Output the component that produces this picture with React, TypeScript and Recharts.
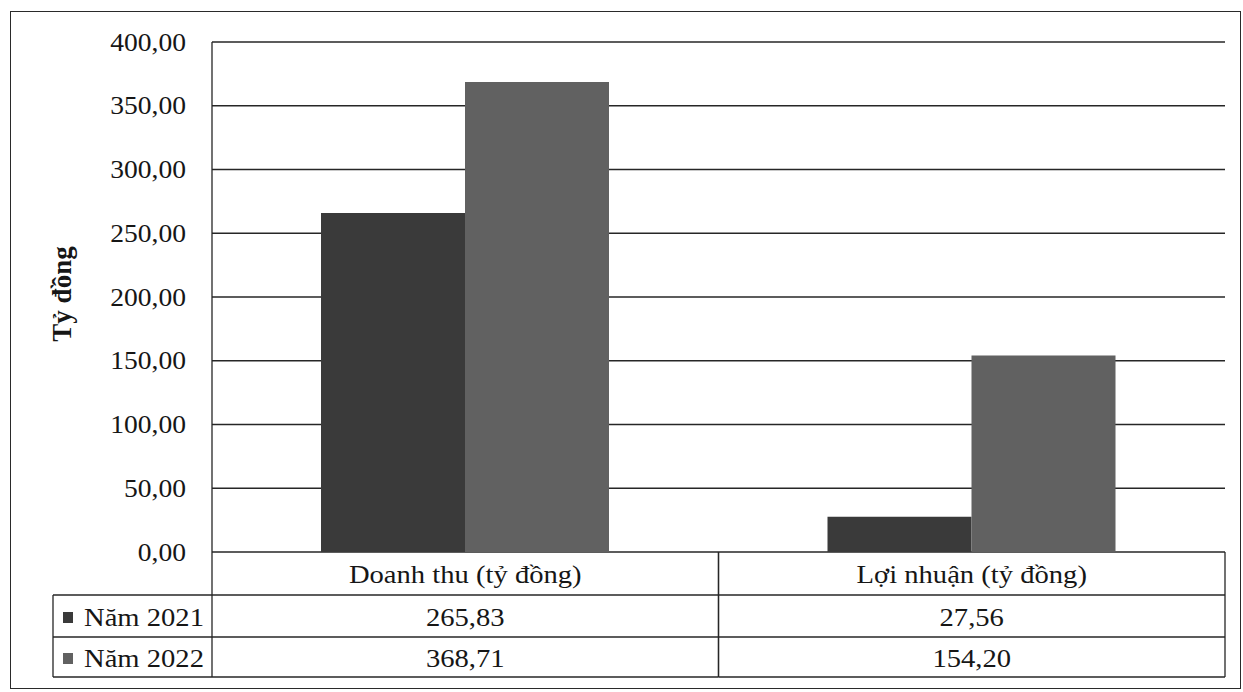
import React from "react";
import { BarChart, Bar, XAxis, YAxis, CartesianGrid } from "recharts";

const categories = ["Doanh thu (tỷ đồng)", "Lợi nhuận (tỷ đồng)"];
const values2021 = [265.83, 27.56];
const values2022 = [368.71, 154.2];
const seriesNames = ["Năm 2021", "Năm 2022"];
const seriesColors = ["#3a3a3a", "#616161"];
const yTicks = [0, 50, 100, 150, 200, 250, 300, 350, 400];
const yAxisTitle = "Tỷ đồng";

const data = categories.map((c, i) => ({
  category: c,
  y2021: values2021[i],
  y2022: values2022[i],
}));

const FONT = '"Liberation Serif", "Times New Roman", serif';
const INK = "#161616";
const LINE = "#262626";
const SX = 1.1;

const fmt = (v: number) => v.toFixed(2).replace(".", ",");

const W = 1243;
const H = 692;
const X_AXIS_H = 140;
const M = { top: 42, right: 18, bottom: 0, left: 92 };
const Y_AXIS_W = 120;
const PLOT_LEFT = M.left + Y_AXIS_W;
const PLOT_RIGHT = W - M.right;
const PLOT_BOTTOM = H - M.bottom - X_AXIS_H;
const CAT_W = (PLOT_RIGHT - PLOT_LEFT) / categories.length;
const ROW1 = 595;
const ROW2 = 637;
const ROW3 = 677;
const TABLE_LEFT = 53;

const SText = ({ x, y, children, anchor = "middle", bold = false, size = 26, sx = SX }: any) => (
  <g transform={`translate(${x},${y}) scale(${sx},1)`}>
    <text
      x={0}
      y={0}
      textAnchor={anchor}
      dominantBaseline="central"
      fontFamily={FONT}
      fontSize={size}
      fontWeight={bold ? "bold" : "normal"}
      fill={INK}
    >
      {children}
    </text>
  </g>
);

const YTick = (props: any) => {
  const { y, payload } = props;
  return (
    <SText x={PLOT_LEFT - 26} y={y} anchor="end" sx={1.06}>
      {fmt(payload.value)}
    </SText>
  );
};

const TableTick = (props: any) => {
  const { x, index } = props;
  const l = x - CAT_W / 2;
  const r = x + CAT_W / 2;
  const lineProps = { stroke: LINE, strokeWidth: 1.3 };
  return (
    <g>
      <line x1={l} x2={l} y1={PLOT_BOTTOM} y2={ROW3} {...lineProps} />
      <line x1={r} x2={r} y1={PLOT_BOTTOM} y2={ROW3} {...lineProps} />
      <line x1={l} x2={r} y1={ROW1} y2={ROW1} {...lineProps} />
      <line x1={l} x2={r} y1={ROW2} y2={ROW2} {...lineProps} />
      <line x1={l} x2={r} y1={ROW3} y2={ROW3} {...lineProps} />
      <SText x={x} y={(PLOT_BOTTOM + ROW1) / 2 + 1}>{categories[index]}</SText>
      <SText x={x} y={(ROW1 + ROW2) / 2 + 1}>{fmt(values2021[index])}</SText>
      <SText x={x} y={(ROW2 + ROW3) / 2 + 1}>{fmt(values2022[index])}</SText>
      {index === 0 && (
        <g>
          <line x1={TABLE_LEFT} x2={l} y1={ROW1} y2={ROW1} {...lineProps} />
          <line x1={TABLE_LEFT} x2={l} y1={ROW2} y2={ROW2} {...lineProps} />
          <line x1={TABLE_LEFT} x2={l} y1={ROW3} y2={ROW3} {...lineProps} />
          <line x1={TABLE_LEFT} x2={TABLE_LEFT} y1={ROW1} y2={ROW3} {...lineProps} />
          {seriesNames.map((name, i) => {
            const cy = i === 0 ? (ROW1 + ROW2) / 2 + 1 : (ROW2 + ROW3) / 2 + 1;
            return (
              <g key={name}>
                <rect x={63} y={cy - 5} width={10} height={11} fill={seriesColors[i]} />
                <SText x={84} y={cy} anchor="start">{name}</SText>
              </g>
            );
          })}
        </g>
      )}
    </g>
  );
};

const YTitle = () => (
  <g transform={`translate(62,294) rotate(-90)`}>
    <text
      x={0}
      y={0}
      textAnchor="middle"
      dominantBaseline="central"
      fontFamily={FONT}
      fontSize={27}
      fontWeight="bold"
      fill={INK}
    >
      {yAxisTitle}
    </text>
  </g>
);

export default function App() {
  return (
    <div style={{ position: "absolute", left: 0, top: 0, width: W, height: H, background: "#fff" }}>
      <div
        style={{
          position: "absolute",
          left: 10,
          top: 11,
          width: 1229,
          height: 676,
          border: "1.5px solid #2a2a2a",
        }}
      />
      <div style={{ position: "absolute", left: 0, top: 0 }}>
        <BarChart width={W} height={H} data={data} margin={M} barGap={0}>
          <CartesianGrid vertical={false} horizontal={true} stroke={LINE} strokeWidth={1.3} strokeDasharray="" />
          <YAxis
            width={Y_AXIS_W}
            domain={[0, 400]}
            ticks={yTicks}
            interval={0}
            tickLine={false}
            axisLine={{ stroke: LINE, strokeWidth: 1.3 }}
            tick={<YTick />}
            label={<YTitle />}
          />
          <XAxis
            dataKey="category"
            height={X_AXIS_H}
            axisLine={false}
            tickLine={false}
            interval={0}
            tick={<TableTick />}
          />
          <Bar dataKey="y2021" name={seriesNames[0]} fill={seriesColors[0]} barSize={144} isAnimationActive={false} />
          <Bar dataKey="y2022" name={seriesNames[1]} fill={seriesColors[1]} barSize={144} isAnimationActive={false} />
        </BarChart>
      </div>
    </div>
  );
}
